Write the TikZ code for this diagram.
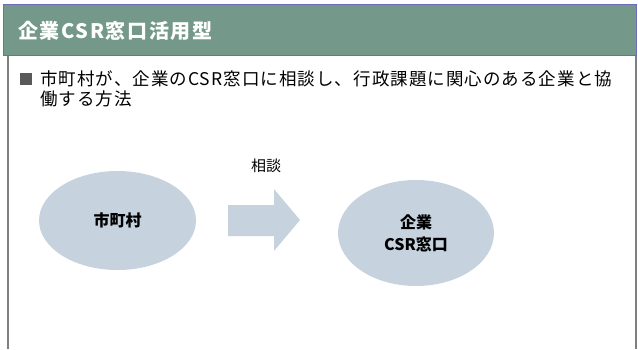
\documentclass[tikz,border=0pt]{standalone}
\usepackage{fontspec}
\setmainfont{Noto Sans CJK JP}
\newfontfamily\jpbody[LetterSpace=6]{Noto Sans CJK JP}
\newfontfamily\jptitle[LetterSpace=8]{Noto Sans CJK JP}
\usetikzlibrary{shapes.geometric}
\definecolor{hdrfill}{HTML}{74998A}
\definecolor{hdrline}{HTML}{6C6CB8}
\definecolor{ellfill}{HTML}{C6D3DF}
\definecolor{boxline}{HTML}{7F7F7F}
\definecolor{bulletgray}{HTML}{595959}
\tikzset{
  ell/.style={ellipse, fill=ellfill, draw=none, inner sep=0pt, font=\fontsize{16}{22}\selectfont\bfseries, align=center},
  bodytext/.style={anchor=west, inner sep=0pt, font=\fontsize{17.5}{20}\jpbody},
}
\begin{document}
\begin{tikzpicture}[x=1pt,y=-1pt]
\useasboundingbox (0,0) rectangle (638,349);
% box side lines
\draw[boxline, line width=1.3pt] (8,55) -- (8,349);
\draw[boxline, line width=1.3pt] (636,55) -- (636,349);
% header
\node[fill=hdrfill, draw=hdrline, line width=1.2pt, minimum width=633pt, minimum height=51pt, inner sep=0pt, anchor=north west] (hdr) at (3,4) {};
\node[anchor=west, inner sep=0pt, text=white, font=\fontsize{20}{24}\jptitle\bfseries] (title) at (18,31) {企業CSR窓口活用型};
% bullet
\node[fill=bulletgray, minimum size=12pt, inner sep=0pt] (bul) at (25.5,79) {};
\node[bodytext] (l1) at (40,79) {市町村が、企業のCSR窓口に相談し、行政課題に関心のある企業と協};
\node[bodytext] (l2) at (40,99) {働する方法};
% diagram
\node[ell, minimum width=157pt, minimum height=99pt] (city) at (117.5,220.5) {市町村};
\node[ell, minimum width=156pt, minimum height=106pt] (csr) at (416,233) {企業\\CSR窓口};
% block arrow
\coordinate (arr) at (264,220);
\fill[ellfill] (228,205) -- (274,205) -- (274,189) -- (300,220) -- (274,251) -- (274,236) -- (228,236) -- cycle;
\node[inner sep=0pt, font=\fontsize{15}{18}\selectfont] (lbl) at (266,166) {相談};
\end{tikzpicture}
\end{document}
